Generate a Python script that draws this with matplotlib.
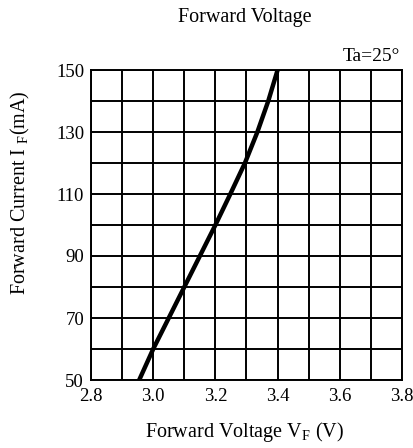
import numpy as np
import matplotlib
matplotlib.use("Agg")
import matplotlib.pyplot as plt

plt.rcParams['font.family'] = ['Liberation Serif', 'DejaVu Serif']
plt.rcParams['mathtext.fontset'] = 'custom'
plt.rcParams['mathtext.rm'] = 'Liberation Serif'

# Kennlinie
spannung = [2.955, 3.0, 3.05, 3.1, 3.15, 3.2, 3.248, 3.295, 3.335, 3.37, 3.40]
strom = [50, 60, 70, 80, 90, 100, 110, 120, 130, 140, 150]

x_ticks = [2.8, 3.0, 3.2, 3.4, 3.6, 3.8]
x_ticklabels = ["2.8", "3.0", "3.2", "3.4", "3.6", "3.8"]
y_ticks = [50, 70, 90, 110, 130, 150]

fig = plt.figure(figsize=(4.13, 4.48), dpi=100)
ax = fig.add_axes([91/413, 68/448, 311/413, 310/448])

ax.plot(spannung, strom, color="black", linewidth=3.2, solid_capstyle="butt")

ax.set_xlim(2.8, 3.8)
ax.set_ylim(50, 150)
ax.set_xticks(np.arange(2.8, 3.81, 0.1), minor=True)
ax.set_yticks(np.arange(50, 151, 10), minor=True)
ax.set_xticks(x_ticks)
ax.set_xticklabels(x_ticklabels)
ax.set_yticks(y_ticks)
ax.grid(which="both", color="black", linewidth=1.4)
ax.tick_params(which="both", length=0, labelsize=13.5)
ax.tick_params(axis="x", pad=6)
ax.tick_params(axis="y", pad=5)
for s in ax.spines.values():
    s.set_linewidth(1.4)

fig.text(0.593, 0.96, "Forward Voltage", ha="center", va="center", fontsize=14.5)
fig.text(0.968, 0.873, "Ta=25°", ha="right", va="center", fontsize=14)
fig.text(0.593, 0.035, r"Forward Voltage V$_\mathregular{F}$ (V)", ha="center", va="center", fontsize=14.5)
fig.text(0.05, 0.57, r"Forward Current I $_\mathregular{F}$(mA)", ha="center", va="center",
         rotation=90, fontsize=14.5)

fig.savefig("out.png", dpi=100)
